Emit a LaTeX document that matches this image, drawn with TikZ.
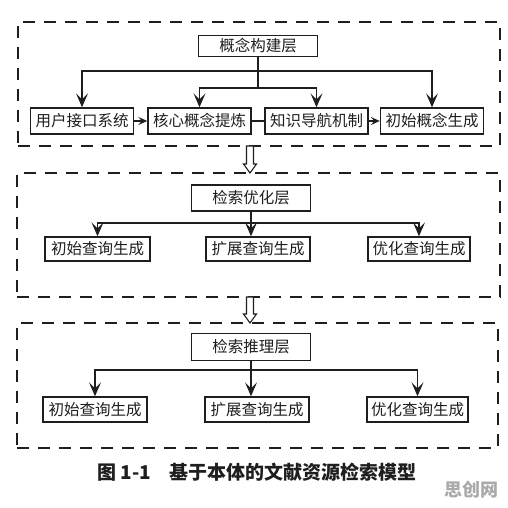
\documentclass[tikz,border=0pt]{standalone}
\usepackage{fontspec}
\newfontfamily\cjk{Noto Sans CJK SC}
\usetikzlibrary{arrows.meta}
\definecolor{inkgray}{RGB}{30,30,30}
\definecolor{markgray}{RGB}{170,170,170}

\begin{document}
\begin{tikzpicture}[x=1pt,y=1pt,
    layer/.style={draw=inkgray, line width=1.3pt, dash pattern=on 12pt off 9pt},
    box/.style={draw=inkgray, line width=1.4pt, inner sep=0pt, minimum width=103pt, minimum height=25pt,
        font=\cjk\fontsize{15.5}{17}\selectfont, text=inkgray},
    head/.style={box, minimum width=119pt},
    link/.style={draw=inkgray, line width=1.6pt},
    tip/.style={-{Stealth[length=14pt,width=12pt,inset=6pt]}},
    small tip/.style={-{Stealth[length=9pt,width=8pt,inset=3.5pt]}},
    hollow/.style={draw=inkgray, line width=1.1pt, fill=white}]
    \useasboundingbox (0,0) rectangle (507,508);

    \node[layer, minimum width=482pt, minimum height=124pt] (L1) at (259,424) {};
    \node[layer, minimum width=483pt, minimum height=124pt] (L2) at (258.5,273) {};
    \node[layer, minimum width=481pt, minimum height=125pt] (L3) at (257.5,122.5) {};

    \node[head, minimum height=21pt] (t1) at (258,462) {概念构建层};
    \node[box, minimum height=26pt] (u1) at (82,387) {用户接口系统};
    \node[box, minimum height=26pt] (u2) at (199.5,387) {核心概念提炼};
    \node[box, minimum height=26pt] (u3) at (316.5,387) {知识导航机制};
    \node[box, minimum height=26pt] (u4) at (432,387) {初始概念生成};

    \coordinate (j1) at (258,437);
    \coordinate (j2) at (258,420);
    \draw[link] (t1.south) -- (j2);
    \draw[link,tip] (j1) -| (u1.north);
    \draw[link,tip] (j1) -| (u4.north);
    \draw[link,tip] (j2) -| (u2.north);
    \draw[link,tip] (j2) -| (u3.north);
    \draw[link,small tip] (u1) -- (u2);
    \draw[link] (u2) -- (u3);
    \draw[link,small tip] (u3) -- (u4);

    \node[head, minimum height=26pt] (t2) at (251,310) {检索优化层};
    \node[box, minimum width=105pt, minimum height=24pt] (q1) at (97.5,259) {初始查询生成};
    \node[box, minimum width=104pt, minimum height=24pt] (q2) at (258,259) {扩展查询生成};
    \node[box, minimum width=102pt, minimum height=24pt] (q3) at (419,259) {优化查询生成};

    \coordinate (k2) at (251,285);
    \draw[link,tip] (k2) -| (q1.north);
    \draw[link,tip] (k2) -| (q3.north);
    \draw[link,tip] (t2.south) -- (t2.south |- q2.north);

    \node[head, minimum height=27pt] (t3) at (251,161) {检索推理层};
    \node[box, minimum width=104pt] (r1) at (95,98.5) {初始查询生成};
    \node[box, minimum width=104pt] (r2) at (257,98.5) {扩展查询生成};
    \node[box, minimum width=101pt] (r3) at (417.5,98.5) {优化查询生成};

    \coordinate (m2) at (251,138);
    \draw[link,tip] (m2) -| (r1.north);
    \draw[link,tip] (m2) -| (r3.north);
    \draw[link,tip] (t3.south) -- (t3.south |- r2.north);

    \coordinate (h1) at (250,362);
    \coordinate (h2) at (250,211);
    \draw[hollow] (h1) ++(-3.5,0) -- ++(0,-18) -- ++(-3,0) -- ++(6.5,-9) -- ++(6.5,9) -- ++(-3,0) -- ++(0,18) -- cycle;
    \draw[hollow] (h2) ++(-3.5,0) -- ++(0,-17) -- ++(-3,0) -- ++(6.5,-9) -- ++(6.5,9) -- ++(-3,0) -- ++(0,17) -- cycle;

    \node[font=\cjk\bfseries\fontsize{19}{22}\selectfont, text=inkgray] (cap) at (257,36) {图 1-1\quad 基于本体的文献资源检索模型};
    \node[font=\cjk\bfseries\fontsize{18}{20}\selectfont, text=markgray] (mark) at (471,18) {思创网};
\end{tikzpicture}
\end{document}
